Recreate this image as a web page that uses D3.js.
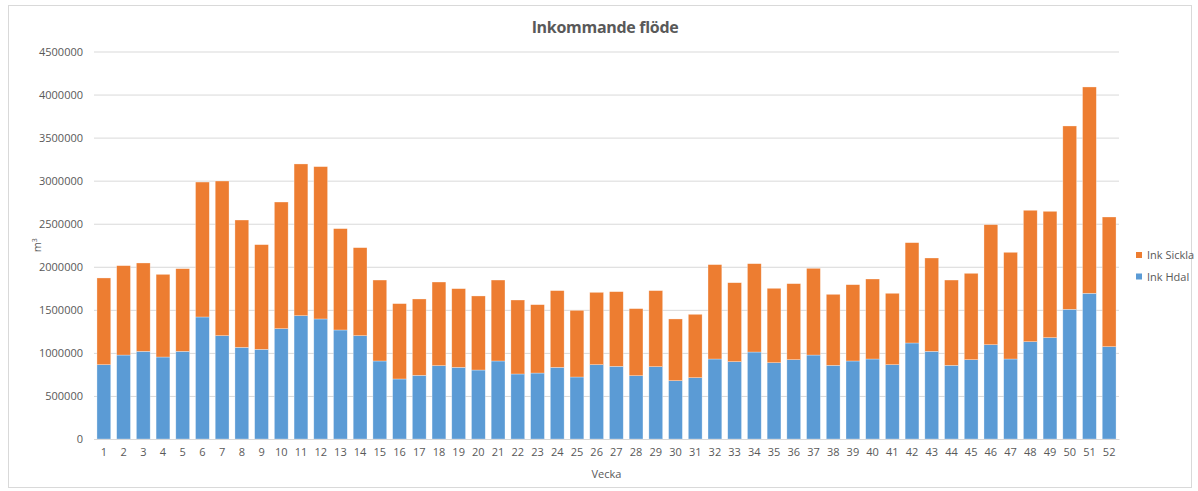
<!DOCTYPE html>
<html>
<head>
<meta charset="utf-8">
<script src="https://cdn.jsdelivr.net/npm/d3@7"></script>
<style>
	body { margin: 0; background: #fff; }
	text { font-family: "Open Sans", "Liberation Sans", sans-serif; fill: #595959; }
</style>
</head>
<body>
<div class="stacked"></div>
<script>
var weeks = d3.range(1, 53).map(String);

// m3 per vecka
var hdal = [863000, 975000, 1018000, 952000, 1018000, 1417000, 1200000, 1064000, 1041000, 1281000,
	1432000, 1394000, 1266000, 1200000, 906000, 697000, 739000, 852000, 832000, 801000,
	906000, 755000, 766000, 832000, 720000, 863000, 844000, 735000, 840000, 677000,
	712000, 929000, 898000, 1010000, 886000, 921000, 975000, 855000, 906000, 929000,
	863000, 1115000, 1018000, 855000, 921000, 1095000, 929000, 1130000, 1177000, 1506000,
	1692000, 1072000];

var total = [1870000, 2013000, 2044000, 1912000, 1978000, 2984000, 2996000, 2543000, 2257000, 2752000,
	3194000, 3163000, 2443000, 2222000, 1846000, 1572000, 1626000, 1823000, 1746000, 1661000,
	1846000, 1614000, 1560000, 1723000, 1494000, 1703000, 1711000, 1514000, 1723000, 1394000,
	1448000, 2025000, 1815000, 2036000, 1750000, 1804000, 1982000, 1680000, 1792000, 1858000,
	1692000, 2280000, 2102000, 1846000, 1924000, 2489000, 2168000, 2656000, 2644000, 3635000,
	4088000, 2578000];

var sickla = total.map(function(t, i){ return t - hdal[i]; });

var yTicks = [0, 500000, 1000000, 1500000, 2000000, 2500000, 3000000, 3500000, 4000000, 4500000];

var seriesNames = ["Ink Hdal", "Ink Sickla"];
var colors = {"Ink Hdal": "#5B9BD5", "Ink Sickla": "#ED7D31"};

var W = 1198, H = 491;
var margin = {top: 51.5, right: 79, bottom: 52, left: 94};
var width = W - margin.left - margin.right;
var height = H - margin.top - margin.bottom;

var rows = weeks.map(function(w, i){
	return {week: w, "Ink Hdal": hdal[i], "Ink Sickla": sickla[i]};
});
var stacked = d3.stack().keys(seriesNames)(rows);

var x = d3.scaleBand().domain(weeks).range([0, width]).paddingInner(0.3).paddingOuter(0.15);
var y = d3.scaleLinear().domain([0, 4500000]).range([height, 0]);

var svg = d3.select(".stacked").append("svg")
	.attr("width", W)
	.attr("height", H);

// ram runt diagrammet
svg.append("rect")
	.attr("x", 8.5).attr("y", 5.5)
	.attr("width", 1183).attr("height", 482)
	.attr("fill", "none")
	.attr("stroke", "#d9d9d9");

svg.append("text")
	.attr("x", 605)
	.attr("y", 33)
	.attr("text-anchor", "middle")
	.style("font-size", "16px")
	.style("font-weight", "bold")
	.style("letter-spacing", "-0.3px")
	.text("Inkommande flöde");

var g = svg.append("g")
	.attr("transform", "translate(" + margin.left + "," + margin.top + ")");

g.append("g")
	.attr("class", "grid")
	.call(d3.axisLeft(y).tickValues(yTicks).tickSize(-width).tickFormat(""))
	.call(function(s){
		s.select(".domain").remove();
		s.selectAll("line").attr("stroke", "#d9d9d9");
	});

g.append("g")
	.attr("class", "y axis")
	.call(d3.axisLeft(y).tickValues(yTicks).tickSize(0).tickPadding(11).tickFormat(d3.format("d")))
	.call(function(s){
		s.select(".domain").remove();
		s.selectAll("text").style("font-size", "11px").style("fill", "#595959");
	});

var layers = g.selectAll(".layer")
	.data(stacked)
	.enter().append("g")
	.attr("class", "layer")
	.attr("fill", function(d){ return colors[d.key]; });

layers.selectAll("rect")
	.data(function(d){ return d; })
	.enter().append("rect")
	.attr("x", function(d){ return x(d.data.week); })
	.attr("y", function(d){ return y(d[1]); })
	.attr("width", x.bandwidth())
	.attr("height", function(d){ return y(d[0]) - y(d[1]); })
	.attr("stroke", "#fff")
	.attr("stroke-opacity", 0.5)
	.attr("stroke-width", 0.6);

g.append("g")
	.attr("class", "x axis")
	.attr("transform", "translate(0," + height + ")")
	.call(d3.axisBottom(x).tickSize(0).tickPadding(9))
	.call(function(s){
		s.select(".domain").attr("stroke", "#d9d9d9");
		s.selectAll("text").style("font-size", "11px").style("fill", "#595959");
	});

g.append("text")
	.attr("x", width / 2)
	.attr("y", height + 39)
	.attr("text-anchor", "middle")
	.style("font-size", "11px")
	.text("Vecka");

var ylab = g.append("text")
	.attr("transform", "translate(-53," + (height / 2 - 0) + ") rotate(-90)")
	.attr("text-anchor", "middle")
	.style("font-size", "11px");
ylab.append("tspan").text("m");
ylab.append("tspan").attr("dy", "-4").style("font-size", "7px").text("3");

// legend, Sickla överst
var legend = svg.append("g")
	.attr("transform", "translate(1136,252)");
var items = legend.selectAll(".item")
	.data(seriesNames.slice().reverse())
	.enter().append("g")
	.attr("class", "item")
	.attr("transform", function(d, i){ return "translate(0," + (i * 21.5) + ")"; });
items.append("rect")
	.attr("width", 6).attr("height", 6)
	.attr("fill", function(d){ return colors[d]; });
items.append("text")
	.attr("x", 11)
	.attr("y", 7)
	.style("font-size", "11px")
	.text(function(d){ return d; });
</script>
</body>
</html>
